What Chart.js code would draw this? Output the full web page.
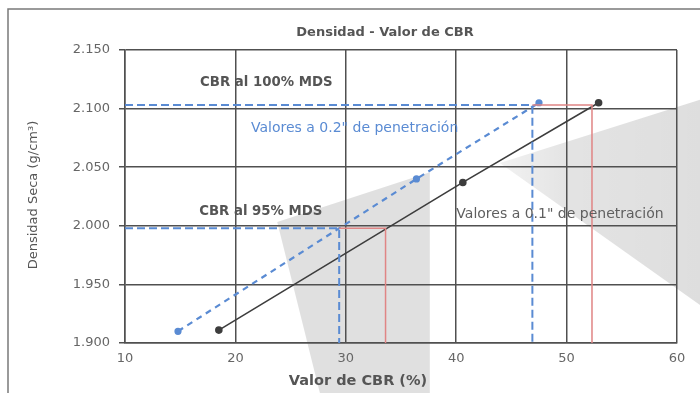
<!DOCTYPE html>
<html>
<head>
<meta charset="utf-8">
<script src="https://cdn.jsdelivr.net/npm/chart.js@4/dist/chart.umd.min.js"></script>
<style>
  html, body { margin: 0; padding: 0; background: #ffffff; }
  canvas { display: block; }
</style>
</head>
<body>
<canvas id="cbr" width="700" height="393"></canvas>
<script>
// Ensayo CBR: densidad seca vs. valor de CBR
const cbr01 = [18.5, 40.6, 52.9];        // CBR (%) a 0.1" de penetración
const dens01 = [1.911, 2.037, 2.105];    // densidad seca (g/cm³)
const cbr02 = [14.8, 36.4, 47.5];        // CBR (%) a 0.2" de penetración
const dens02 = [1.910, 2.040, 2.105];

const mds = 2.103;                        // máxima densidad seca
const mds95 = 1.998;                      // 95% de la MDS
const cbr100 = [46.9, 52.3];              // CBR al 100% MDS: [0.2", 0.1"]
const cbr95 = [29.4, 33.6];               // CBR al 95% MDS:  [0.2", 0.1"]

const xTicks = [10, 20, 30, 40, 50, 60];
const yTicks = [1.900, 1.950, 2.000, 2.050, 2.100, 2.150];

const pts = (xs, ys) => xs.map((x, i) => ({ x, y: ys[i] }));
const yMin = yTicks[0];

const BLUE = '#5a8bd3';
const RED = '#e08585';
const DARK = '#3d3d3d';

// Paper background, scan shadows and outer frame
const backdrop = {
  id: 'backdrop',
  beforeDraw(chart) {
    const { ctx, width: w, height: h } = chart;
    ctx.save();
    ctx.fillStyle = '#ffffff';
    ctx.fillRect(0, 0, w, h);
    ctx.fillStyle = 'rgba(0,0,0,0.12)';
    ctx.beginPath();
    ctx.moveTo(w * 0.396, h * 0.565);
    ctx.lineTo(w * 0.614, h * 0.438);
    ctx.lineTo(w * 0.614, h);
    ctx.lineTo(w * 0.457, h);
    ctx.closePath();
    ctx.fill();
    const g = ctx.createLinearGradient(w * 0.714, 0, w, 0);
    g.addColorStop(0, 'rgba(0,0,0,0.05)');
    g.addColorStop(0.35, 'rgba(0,0,0,0.11)');
    g.addColorStop(1, 'rgba(0,0,0,0.13)');
    ctx.fillStyle = g;
    ctx.beginPath();
    ctx.moveTo(w * 0.714, h * 0.415);
    ctx.lineTo(w, h * 0.254);
    ctx.lineTo(w, h * 0.776);
    ctx.closePath();
    ctx.fill();
    ctx.strokeStyle = '#7a7a7a';
    ctx.lineWidth = 1.5;
    ctx.beginPath();
    ctx.moveTo(8, h);
    ctx.lineTo(8, 9);
    ctx.lineTo(w, 9);
    ctx.stroke();
    ctx.restore();
  }
};

// Titles and annotation texts
const labels = {
  id: 'labels',
  afterDraw(chart) {
    const { ctx } = chart;
    const sx = chart.scales.x, sy = chart.scales.y;
    const put = (text, x, y, font, color) => {
      ctx.font = font;
      ctx.fillStyle = color;
      ctx.textAlign = 'center';
      ctx.textBaseline = 'middle';
      ctx.fillText(text, x, y);
    };
    ctx.save();
    put('Densidad - Valor de CBR', 385, 33, 'bold 13px "DejaVu Sans"', '#555555');
    put('Valor de CBR (%)', 358, 381, 'bold 14.5px "DejaVu Sans"', '#555555');
    put('CBR al 100% MDS', sx.getPixelForValue(22.8), sy.getPixelForValue(2.122), 'bold 13.3px "DejaVu Sans"', '#555555');
    put('Valores a 0.2" de penetración', sx.getPixelForValue(30.8), sy.getPixelForValue(2.083), '14px "DejaVu Sans"', BLUE);
    put('CBR al 95% MDS', sx.getPixelForValue(22.3), sy.getPixelForValue(2.0125), 'bold 13.3px "DejaVu Sans"', '#555555');
    put('Valores a 0.1" de penetración', sx.getPixelForValue(49.4), sy.getPixelForValue(2.010), '14px "DejaVu Sans"', '#5f5f5f');
    ctx.translate(34, 195);
    ctx.rotate(-Math.PI / 2);
    put('Densidad Seca (g/cm³)', 0, 0, '13px "DejaVu Sans"', '#555555');
    ctx.restore();
  }
};

new Chart(document.getElementById('cbr'), {
  type: 'scatter',
  data: {
    datasets: [
      { // 95% MDS, 0.2"
        data: [{ x: xTicks[0], y: mds95 }, { x: cbr95[0], y: mds95 }, { x: cbr95[0], y: yMin }],
        showLine: true, borderColor: BLUE, borderWidth: 2, borderDash: [8, 4], pointRadius: 0
      },
      { // 95% MDS, 0.1"
        data: [{ x: cbr95[0], y: mds95 }, { x: cbr95[1], y: mds95 }, { x: cbr95[1], y: yMin }],
        showLine: true, borderColor: RED, borderWidth: 1.5, pointRadius: 0
      },
      { // 100% MDS, 0.2"
        data: [{ x: xTicks[0], y: mds }, { x: cbr100[0], y: mds }, { x: cbr100[0], y: yMin }],
        showLine: true, borderColor: BLUE, borderWidth: 2, borderDash: [8, 4], pointRadius: 0
      },
      { // 100% MDS, 0.1"
        data: [{ x: cbr100[0], y: mds }, { x: cbr100[1], y: mds }, { x: cbr100[1], y: yMin }],
        showLine: true, borderColor: RED, borderWidth: 1.5, pointRadius: 0
      },
      {
        label: 'Valores a 0.2" de penetración',
        data: pts(cbr02, dens02),
        showLine: true, borderColor: BLUE, borderWidth: 2.2, borderDash: [6, 5],
        pointRadius: 2.5, pointBackgroundColor: BLUE, pointBorderColor: BLUE
      },
      {
        label: 'Valores a 0.1" de penetración',
        data: pts(cbr01, dens01),
        showLine: true, borderColor: DARK, borderWidth: 1.6,
        pointRadius: 3, pointBackgroundColor: DARK, pointBorderColor: DARK
      }
    ]
  },
  options: {
    responsive: false,
    animation: false,
    devicePixelRatio: 1,
    layout: { padding: { top: 50, right: 23, bottom: 0, left: 0 } },
    plugins: {
      legend: { display: false },
      tooltip: { enabled: false },
      title: { display: false }
    },
    scales: {
      x: {
        type: 'linear',
        min: xTicks[0], max: xTicks[xTicks.length - 1],
        afterBuildTicks: s => { s.ticks = xTicks.map(v => ({ value: v })); },
        afterFit: s => { s.height = 50; },
        ticks: { color: '#666666', font: { family: 'DejaVu Sans', size: 13 }, padding: 8, maxRotation: 0 },
        grid: { color: '#505050', lineWidth: 1.5, drawTicks: false },
        border: { color: '#505050', width: 1.5 }
      },
      y: {
        type: 'linear',
        min: yTicks[0], max: yTicks[yTicks.length - 1],
        afterBuildTicks: s => { s.ticks = yTicks.map(v => ({ value: v })); },
        afterFit: s => { s.width = 125; },
        ticks: {
          color: '#666666', font: { family: 'DejaVu Sans', size: 13 }, padding: 9,
          callback: v => Number(v).toFixed(3)
        },
        grid: { color: '#505050', lineWidth: 1.5, tickLength: 6 },
        border: { color: '#505050', width: 1.5 }
      }
    }
  },
  plugins: [backdrop, labels]
});
</script>
</body>
</html>
